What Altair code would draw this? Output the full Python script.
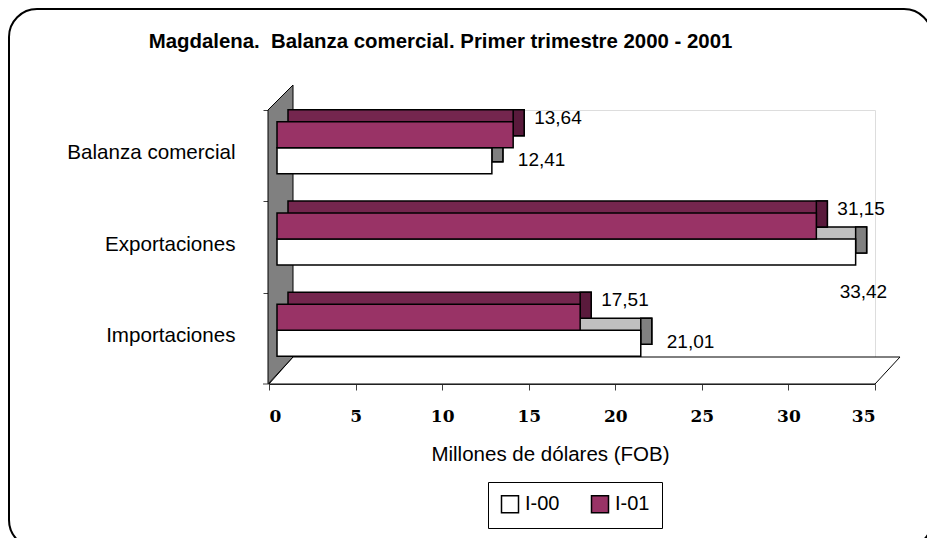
import altair as alt
import pandas as pd

categories = ["Balanza comercial", "Exportaciones", "Importaciones"]
series = ["I-00", "I-01"]
values_i00 = [12.41, 33.42, 21.01]
values_i01 = [13.64, 31.15, 17.51]
x_ticks = [0, 5, 10, 15, 20, 25, 30, 35]

rows = []
for s, vals in zip(series, [values_i00, values_i01]):
    for c, v in zip(categories, vals):
        rows.append({"cat": c, "series": s, "value": v})
df = pd.DataFrame(rows)

FONT = "Liberation Sans"
W, H = 606, 274
PAD = {"left": 261, "top": 102, "right": 919 - 261 - W, "bottom": 530 - 102 - H}
OX, OY = 269, 110  # page position of the plot origin (used for decorations only)

base = alt.Chart(df).transform_calculate(
    label="replace(format(datum.value, '.2f'), '.', ',')"
)

yenc = alt.Y("cat:N", sort=categories, title=None,
             scale=alt.Scale(paddingInner=0.43, paddingOuter=0.215),
             axis=alt.Axis(domain=False, ticks=True, tickSize=6, tickOffset=-H / 6,
                           tickColor="#404040", labelFont=FONT, labelFontSize=20.6,
                           labelColor="black", labelPadding=28, labelOffset=H / 6 - 3,
                           labelBaseline="middle", labelLimit=300))
xenc = alt.X("value:Q", title="Millones de dólares (FOB)",
             scale=alt.Scale(domain=[0, 35], nice=False, zero=True),
             axis=alt.Axis(values=x_ticks, grid=False, domainColor="#404040",
                           tickColor="#404040", tickSize=6, labelFont="DejaVu Serif",
                           labelFontSize=17, labelFontWeight="bold", labelColor="black",
                           labelPadding=18, labelBaseline="top", titleFont=FONT,
                           titleFontSize=20.5, titleFontWeight="normal", titleColor="black",
                           titleX=281, titleY=76, titleBaseline="alphabetic"))

one = alt.Data(values=[{}])

frame = alt.Chart(one).mark_rect(filled=False, fillOpacity=0, stroke="black",
                                 strokeWidth=2, cornerRadius=28).encode(
    x=alt.value(9 - OX), x2=alt.value(932 - OX), y=alt.value(9 - OY), y2=alt.value(548 - OY))

SC = 150.0
def shape_path(pts):
    return "M" + " L".join(f"{px / SC:.5f},{py / SC:.5f}" for px, py in pts) + " Z"

floor_path = shape_path([(-315.5, 13.5), (290.5, 13.5), (315.5, -13.5), (-291.5, -13.5)])
floor = alt.Chart(one).mark_point(shape=floor_path, size=4 * SC * SC, filled=True,
                                  fill="white", stroke="black", strokeWidth=1,
                                  opacity=1).encode(
    x=alt.value(584.5 - OX), y=alt.value(370.5 - OY))

wall_path = shape_path([(-12.5, -124.5), (12.5, -149.5), (12.5, 122.5), (-12.5, 149.5)])
wall = alt.Chart(one).mark_point(shape=wall_path, size=4 * SC * SC, filled=True,
                                 fill="#808080", stroke="black", strokeWidth=1,
                                 opacity=1).encode(
    x=alt.value(280.5 - OX), y=alt.value(234.5 - OY))

last_tick = alt.Chart(one).mark_rule(color="#404040").encode(
    x=alt.value(-6), x2=alt.value(0), y=alt.value(H))

front_colors = {"I-00": "white", "I-01": "#993366"}
top_colors = {"I-00": "#c0c0c0", "I-01": "#74264e"}
side_colors = {"I-00": "#808080", "I-01": "#5a1a3c"}
# vertical dodge of each series inside its band (bar height 26, depth 12)
dodge = {"I-01": -21, "I-00": 5}
BAR_H = 26
DEPTH_X, DEPTH_Y = 11, 12
SHIFT_X = 8

fill_enc = alt.Fill("series:N", sort=series,
                    scale=alt.Scale(domain=series, range=[front_colors[s] for s in series]),
                    legend=alt.Legend(title=None, orient="none", legendX=488 - OX,
                                      legendY=482 - OY, direction="horizontal",
                                      symbolType="square", symbolSize=289,
                                      symbolStrokeColor="black", symbolStrokeWidth=1.5,
                                      labelFont=FONT, labelFontSize=20, labelColor="black",
                                      labelOffset=5, columnPadding=28, padding=12,
                                      strokeColor="black", fillColor="white"))

layers = [frame, floor, wall, last_tick]
backs, fronts = [], []
for s in series:
    sub = base.transform_filter(alt.datum.series == s)
    top = sub.mark_bar(fill=top_colors[s], stroke="black", strokeWidth=1.5,
                       height=BAR_H, xOffset=SHIFT_X + DEPTH_X, x2Offset=SHIFT_X + DEPTH_X,
                       yOffset=dodge[s] - DEPTH_Y).encode(x=xenc, y=yenc)
    side = sub.mark_bar(fill=side_colors[s], stroke="black", strokeWidth=1.5,
                        height=BAR_H, xOffset=SHIFT_X, x2Offset=SHIFT_X + DEPTH_X,
                        yOffset=dodge[s] - DEPTH_Y).encode(x=xenc, x2="value:Q", y=yenc)
    frontm = sub.mark_bar(stroke="black", strokeWidth=1.5, height=BAR_H,
                          xOffset=SHIFT_X, x2Offset=SHIFT_X,
                          yOffset=dodge[s]).encode(x=xenc, y=yenc, fill=fill_enc)
    backs += [top, side]
    fronts.append(frontm)
layers += backs + fronts

txt = dict(font=FONT, fontSize=19, color="black", align="left", baseline="middle")
lab01 = base.transform_filter(alt.datum.series == "I-01").mark_text(
    dx=29, dy=-38, **txt).encode(x=xenc, y=yenc, text="label:N")
lab00 = base.transform_filter((alt.datum.series == "I-00") & (alt.datum.value <= 33)).mark_text(
    dx=34, dy=4, **txt).encode(x=xenc, y=yenc, text="label:N")
lab00b = base.transform_filter((alt.datum.series == "I-00") & (alt.datum.value > 33)).mark_text(
    dx=-8, dy=45, **txt).encode(x=xenc, y=yenc, text="label:N")
layers += [lab01, lab00, lab00b]

title = alt.Chart(one).mark_text(
    text="Magdalena.\u00a0 Balanza comercial. Primer trimestre 2000 - 2001",
    font=FONT, fontSize=20.4, fontWeight="bold", color="black", align="center",
    baseline="alphabetic").encode(x=alt.value(440.5 - OX), y=alt.value(48 - OY))
layers.append(title)

chart = alt.layer(*layers).properties(
    width=W, height=H, padding=PAD, autosize=alt.AutoSizeParams(type="none")
).configure_view(strokeWidth=0).configure(background="white")

chart.save("out.html", embed_options={"renderer": "svg", "actions": False})
